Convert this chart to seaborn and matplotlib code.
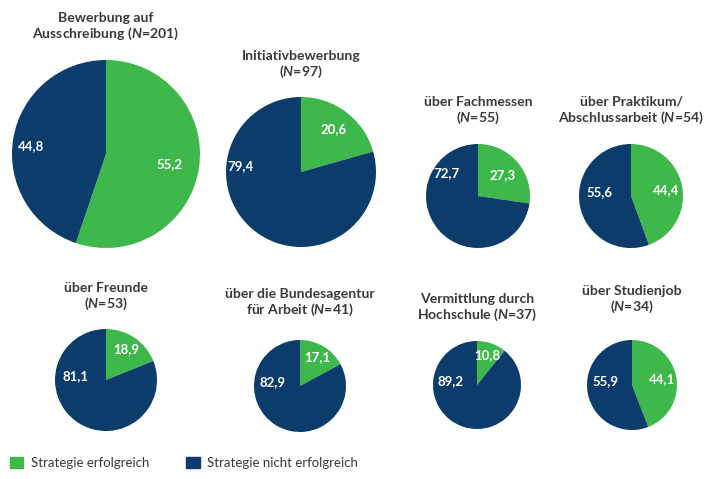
import numpy as np
import matplotlib.pyplot as plt
import seaborn as sns
from matplotlib.patches import Patch

# data
titles = ['Bewerbung auf\nAusschreibung', 'Initiativbewerbung\n', 'über Fachmessen\n',
          'über Praktikum/\nAbschlussarbeit', 'über Freunde\n', 'über die Bundesagentur\nfür Arbeit',
          'Vermittlung durch\nHochschule', 'über Studienjob\n']
n_values = [201, 97, 55, 54, 53, 41, 37, 34]
success = [55.2, 20.6, 27.3, 44.4, 18.9, 17.1, 10.8, 44.1]
failure = [44.8, 79.4, 72.7, 55.6, 81.1, 82.9, 89.2, 55.9]
legend_labels = ['Strategie erfolgreich', 'Strategie nicht erfolgreich']

# layout (pixels, y measured from top)
W, H = 705, 479
centers = [(106, 154), (301, 172), (478, 196), (631, 196),
           (106, 380), (300, 386), (477, 385), (632, 385)]
radii = [94, 75, 52, 52, 51, 46, 44, 45]
title_y = [27, 65, 111, 111, 297, 303, 308, 300]

green = '#3fb84b'
blue = '#0b3c6b'
text_grey = '#3a3a3a'

sns.set_theme(style='white')
plt.rcParams['font.family'] = ['Lato', 'DejaVu Sans']
plt.rcParams['mathtext.fontset'] = 'custom'
plt.rcParams['mathtext.it'] = 'Lato:italic:bold'
plt.rcParams['mathtext.rm'] = 'Lato:bold'

fig = plt.figure(figsize=(W / 100, H / 100), dpi=100)
ax = fig.add_axes([0, 0, 1, 1])

def fmt(v):
    return f'{v:.1f}'.replace('.', ',')

for i in range(len(titles)):
    cx, cy = centers[i]
    r = radii[i]
    wedges, _ = ax.pie([success[i], failure[i]], colors=[green, blue], radius=r,
                       center=(cx, H - cy), startangle=90, counterclock=False,
                       wedgeprops=dict(linewidth=0))
    # label of the green wedge at its mid angle
    w = wedges[0]
    mid = np.deg2rad((w.theta1 + w.theta2) / 2)
    d = 0.72 if success[i] < 40 else 0.68
    if 25 < success[i] < 40:
        d = 0.62
    ax.text(cx + d * r * np.cos(mid), H - cy + d * r * np.sin(mid), fmt(success[i]),
            color='white', fontsize=9.5, fontweight='bold', ha='center', va='center')
    # label of the blue wedge, on the left side
    dx = -0.8 if r > 70 else -0.6
    dy = 0.45 if 25 < success[i] < 40 else 0.08
    ax.text(cx + dx * r, H - cy + dy * r, fmt(failure[i]),
            color='white', fontsize=9.5, fontweight='bold', ha='center', va='center')
    # title
    first, second = titles[i].split('\n')
    nstr = r'($\mathit{N}$=' + str(n_values[i]) + ')'
    if second:
        txt = first + '\n' + second + ' ' + nstr
    else:
        txt = first + '\n' + nstr
    ax.text(cx, H - title_y[i], txt, ha='center', va='center', fontsize=10.1,
            fontweight='bold', color=text_grey, linespacing=1.15)

ax.set_xlim(0, W)
ax.set_ylim(0, H)
ax.set_aspect('equal')
ax.axis('off')

handles = [Patch(color=green, label=legend_labels[0]), Patch(color=blue, label=legend_labels[1])]
fig.legend(handles=handles, loc='lower left', bbox_to_anchor=(0.0, 0.0), ncol=2,
           frameon=False, fontsize=9.5, handlelength=1.0, handleheight=1.0,
           handletextpad=0.6, columnspacing=2.8, labelcolor=text_grey,
           borderaxespad=0.35)

plt.savefig('out.png', dpi=100)
